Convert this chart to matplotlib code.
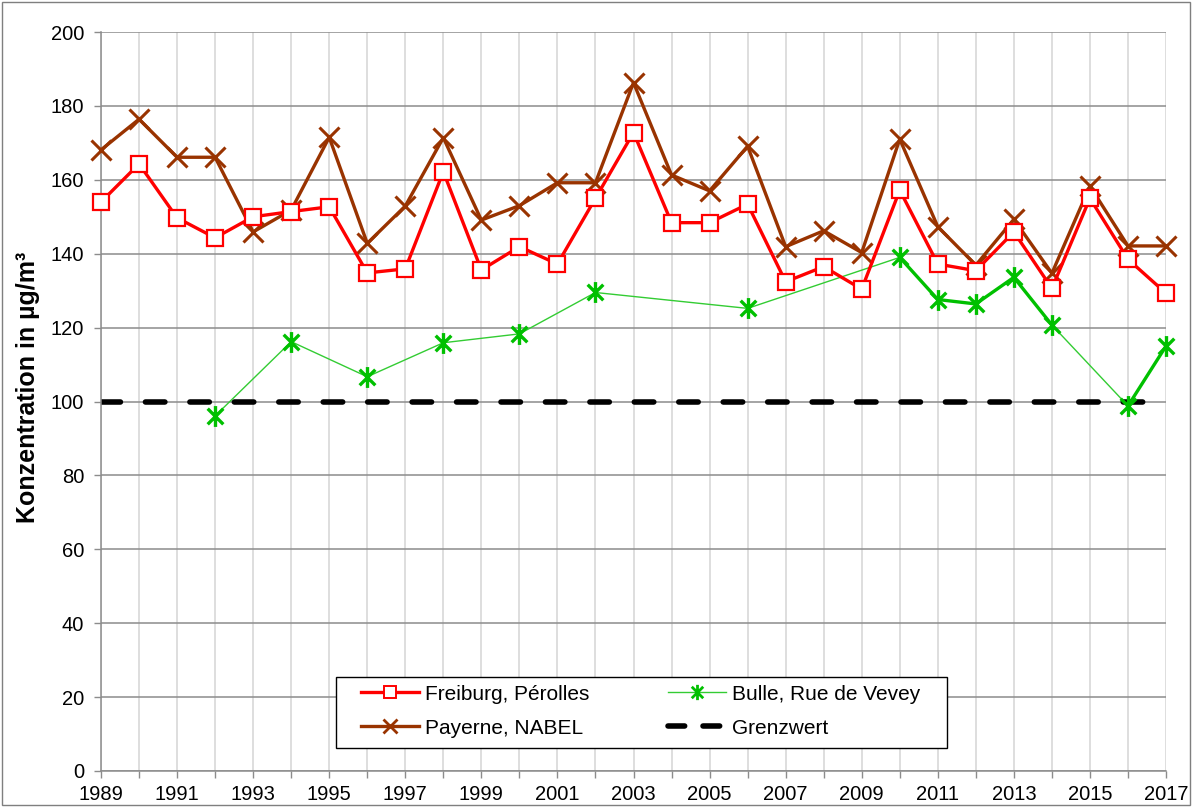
import matplotlib
matplotlib.use("Agg")
import matplotlib.pyplot as plt
from matplotlib.path import Path
from matplotlib.patches import Rectangle
from matplotlib.lines import Line2D
from matplotlib import font_manager
import numpy as np

plt.rcParams['font.family'] = ['Liberation Sans', 'DejaVu Sans']

years = list(range(1989, 2018))
freiburg = [154.0, 164.3, 149.7, 144.3, 150.0, 151.4, 152.7, 134.8, 135.9, 162.2,
            135.6, 141.9, 137.2, 155.0, 172.8, 148.4, 148.4, 153.4, 132.4, 136.5,
            130.4, 157.2, 137.2, 135.4, 145.9, 130.6, 155.0, 138.5, 129.3]
payerne = [168.1, 176.4, 166.1, 166.1, 145.9, 151.8, 171.5, 142.8, 152.9, 171.4,
           149.1, 153.0, 159.2, 159.2, 186.3, 161.3, 157.0, 169.1, 141.9, 146.2,
           140.3, 171.0, 147.3, 136.9, 149.3, 134.7, 158.3, 142.1, 142.1]
bulle_years = [1992, 1994, 1996, 1998, 2000, 2002, 2006, 2010, 2011, 2012, 2013, 2014, 2016, 2017]
bulle = [96.1, 116.2, 106.7, 115.9, 118.3, 129.5, 125.2, 139.0, 127.6, 126.4, 133.6, 120.7, 98.8, 115.0]
grenz_years = [1989, 2017]
grenzwert = [100, 100]

y_ticks = list(range(0, 201, 20))
x_labels = list(range(1989, 2018, 2))

fig = plt.figure(figsize=(11.92, 8.07), dpi=100)
ax = fig.add_axes([101/1192, 36/807, 1065/1192, 739/807])

ast = Path([(0, -1), (0, 1), (-0.75, -0.75), (0.75, 0.75), (-0.75, 0.75), (0.75, -0.75)],
           [Path.MOVETO, Path.LINETO, Path.MOVETO, Path.LINETO, Path.MOVETO, Path.LINETO])

green = '#00C000'

ax.plot(grenz_years, grenzwert, color='black', lw=4.0, dashes=(3.5, 4.5),
        dash_capstyle='round', zorder=2)

ax.plot(bulle_years, bulle, color='#33cc33', lw=1.0, zorder=3, clip_on=False)
for i in range(len(bulle_years) - 1):
    if bulle_years[i + 1] - bulle_years[i] == 1:
        ax.plot(bulle_years[i:i + 2], bulle[i:i + 2], color=green, lw=2.4, zorder=3,
                clip_on=False)
ax.plot(bulle_years, bulle, linestyle='none', marker=ast, markersize=15,
        markeredgewidth=2.4, color=green, zorder=4, clip_on=False)

ax.plot(years, payerne, color='#993300', lw=2.4, marker='x', markersize=14,
        markeredgewidth=2.2, zorder=5, clip_on=False)
ax.plot(years, freiburg, color='#FF0000', lw=2.4, marker='s', markersize=12,
        markerfacecolor='white', markeredgecolor='#FF0000', markeredgewidth=1.6, zorder=6,
        clip_on=False)

# legend frame
ax.add_patch(Rectangle((0.2207, 0.0311), 0.5737, 0.0961, transform=ax.transAxes,
                       facecolor='white', edgecolor='black', lw=1.0, zorder=9))

h1 = Line2D([], [], color='#FF0000', lw=2.4, marker='s', markersize=9,
            markerfacecolor='white', markeredgewidth=1.4)
h2 = Line2D([], [], color='#33cc33', lw=1.0, marker=ast, markersize=11,
            markeredgewidth=2.0, markeredgecolor=green)
h3 = Line2D([], [], color='#993300', lw=2.4, marker='x', markersize=10, markeredgewidth=2.0)
h4 = Line2D([], [], color='black', lw=4.0, dashes=(3.0, 3.3), dash_capstyle='round')
leg = ax.legend([h1, h3, h2, h4],
                ['Freiburg, Pérolles', 'Payerne, NABEL', 'Bulle, Rue de Vevey', 'Grenzwert'],
                ncol=2, loc='upper left', bbox_to_anchor=(0.2441, 0.117),
                fontsize=15, frameon=False, handlelength=2.8, handletextpad=0.25,
                borderpad=0, borderaxespad=0, labelspacing=0.72, columnspacing=3.8)
leg.set_zorder(10)

ax.set_xlim(1989, 2017)
ax.set_ylim(0, 200)
ax.set_yticks(y_ticks)
ax.set_xticks(years)
ax.set_xticklabels([str(y) if y in x_labels else '' for y in years])
ax.tick_params(axis='both', labelsize=14.5, color='#8c8c8c', length=5, width=1)
ax.tick_params(axis='x', pad=5)
ax.tick_params(axis='y', pad=7)

ax.grid(axis='y', color='#8c8c8c', lw=1.1, zorder=0)
ax.grid(axis='x', color='#d4d4d4', lw=1.1, zorder=0)
ax.set_axisbelow(True)
for s in ['top', 'right']:
    ax.spines[s].set_visible(False)
for s in ['left', 'bottom']:
    ax.spines[s].set_color('#8c8c8c')
    ax.spines[s].set_linewidth(1.1)

names = {f.name for f in font_manager.fontManager.ttflist}
lab_fam = ['Liberation Sans Narrow', 'Liberation Sans'] if 'Liberation Sans Narrow' in names else ['Liberation Sans']
lab_size = 20 if 'Liberation Sans Narrow' in names else 18
ax.set_ylabel('Konzentration in µg/m³', fontsize=lab_size, fontweight='bold', family=lab_fam)
ax.yaxis.set_label_coords(-0.057, 0.519)

fig.patches.append(Rectangle((0.002, 0.002), 0.996, 0.995, transform=fig.transFigure,
                             fill=False, edgecolor='#7f7f7f', lw=1.0))

fig.savefig('out.png', dpi=100)
